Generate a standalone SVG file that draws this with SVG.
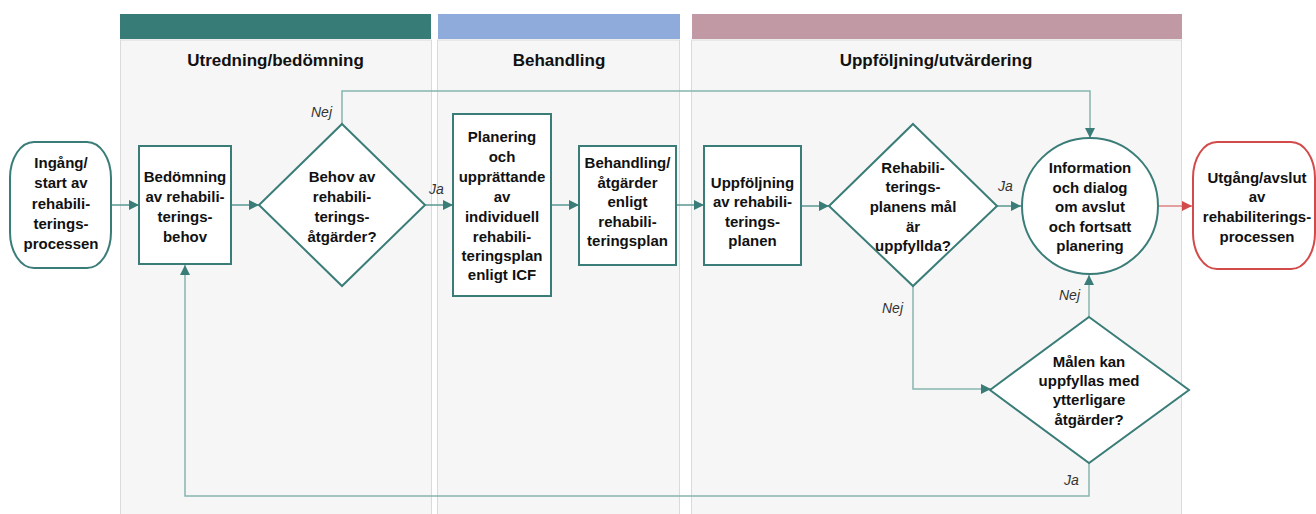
<svg xmlns="http://www.w3.org/2000/svg" width="1316" height="514" viewBox="0 0 1316 514">
<defs>
<marker id="arr" viewBox="0 0 10 10" refX="10" refY="5" markerWidth="10" markerHeight="10" markerUnits="userSpaceOnUse" orient="auto">
<path d="M0,0 L10,5 L0,10 Z" fill="#3a7d78"/>
</marker>
<marker id="arrR" viewBox="0 0 10 10" refX="10" refY="5" markerWidth="10" markerHeight="10" markerUnits="userSpaceOnUse" orient="auto">
<path d="M0,0 L10,5 L0,10 Z" fill="#d24a4a"/>
</marker>
<style>
.lane{fill:#f6f6f6;stroke:#dadada;stroke-width:1}
.title{font-family:"Liberation Sans",Arial,sans-serif;font-weight:bold;font-size:17px;fill:#111;text-anchor:middle}
.node{fill:#fff;stroke:#3a7d78;stroke-width:2}
.nodeR{fill:#fff;stroke:#d24a4a;stroke-width:2}
.t{font-family:"Liberation Sans",Arial,sans-serif;font-weight:bold;font-size:15px;fill:#111;text-anchor:middle}
.lbl{font-family:"Liberation Sans",Arial,sans-serif;font-style:italic;font-size:14px;fill:#333}
.c{fill:none;stroke:#5a9893;stroke-width:1.5}
.cl{fill:none;stroke:#86b5b0;stroke-width:1.5}
.cR{fill:none;stroke:#d24a4a;stroke-width:1.2}
</style>
</defs>
<g id="lanes">
<rect class="lane" x="120.5" y="40" width="311" height="480"/>
<rect x="120" y="14" width="311" height="25" fill="#387c77"/>
<text class="title" x="275.5" y="66">Utredning/bedömning</text>
<rect class="lane" x="437.5" y="40" width="242" height="480"/>
<rect x="438" y="14" width="242" height="25" fill="#8eabdb"/>
<text class="title" x="559" y="66">Behandling</text>
<rect class="lane" x="691.5" y="40" width="490" height="480"/>
<rect x="692" y="14" width="490" height="25" fill="#c099a5"/>
<text class="title" x="936" y="66">Uppföljning/utvärdering</text>
</g>
<g id="connectors">
<path class="c" d="M111,205 H139" marker-end="url(#arr)"/>
<path class="c" d="M231,205 H259" marker-end="url(#arr)"/>
<path class="cl" d="M342,124 V91 H1090 V138" marker-end="url(#arr)"/>
<path class="c" d="M425,205 H453" marker-end="url(#arr)"/>
<path class="c" d="M551,205 H579" marker-end="url(#arr)"/>
<path class="c" d="M676,205 H704" marker-end="url(#arr)"/>
<path class="c" d="M801,206 H829" marker-end="url(#arr)"/>
<path class="c" d="M997,206 H1021" marker-end="url(#arr)"/>
<path class="cR" d="M1159,206 H1192" marker-end="url(#arrR)"/>
<path class="cl" d="M913,285 V389 H991" marker-end="url(#arr)"/>
<path class="cl" d="M1089,317 V275" marker-end="url(#arr)"/>
<path class="cl" d="M1089,463 V496 H185 V265" marker-end="url(#arr)"/>
<text class="lbl" x="311" y="117">Nej</text>
<text class="lbl" x="429" y="194">Ja</text>
<text class="lbl" x="998" y="191">Ja</text>
<text class="lbl" x="882" y="313">Nej</text>
<text class="lbl" x="1059" y="300">Nej</text>
<text class="lbl" x="1064" y="485">Ja</text>
</g>
<g id="start">
<rect class="node" x="10" y="142" width="101" height="126" rx="24" ry="36"/>
<text class="t" x="61" y="168">Ingång/</text>
<text class="t" x="61" y="188">start av</text>
<text class="t" x="61" y="209">rehabili-</text>
<text class="t" x="61" y="229">terings-</text>
<text class="t" x="61" y="249">processen</text>
</g>
<g id="bedomning">
<rect class="node" x="139" y="146" width="92" height="118"/>
<text class="t" x="185" y="182">Bedömning</text>
<text class="t" x="185" y="202">av rehabili-</text>
<text class="t" x="185" y="222">terings-</text>
<text class="t" x="185" y="242">behov</text>
</g>
<g id="behov">
<polygon class="node" points="342,124 425,205 342,286 259,205"/>
<text class="t" x="342" y="182">Behov av</text>
<text class="t" x="342" y="202">rehabili-</text>
<text class="t" x="342" y="222">terings-</text>
<text class="t" x="342" y="242">åtgärder?</text>
</g>
<g id="planering">
<rect class="node" x="453" y="114" width="98" height="182"/>
<text class="t" x="502" y="142">Planering</text>
<text class="t" x="502" y="162">och</text>
<text class="t" x="502" y="182">upprättande</text>
<text class="t" x="502" y="202">av</text>
<text class="t" x="502" y="222">individuell</text>
<text class="t" x="502" y="242">rehabili-</text>
<text class="t" x="502" y="261">teringsplan</text>
<text class="t" x="502" y="280">enligt ICF</text>
</g>
<g id="behandling">
<rect class="node" x="579" y="146" width="97" height="119"/>
<text class="t" x="627.5" y="168">Behandling/</text>
<text class="t" x="627.5" y="188">åtgärder</text>
<text class="t" x="627.5" y="207">enligt</text>
<text class="t" x="627.5" y="227">rehabili-</text>
<text class="t" x="627.5" y="246">teringsplan</text>
</g>
<g id="uppfoljning">
<rect class="node" x="704" y="146" width="97" height="119"/>
<text class="t" x="752.5" y="188">Uppföljning</text>
<text class="t" x="752.5" y="207">av rehabili-</text>
<text class="t" x="752.5" y="227">terings-</text>
<text class="t" x="752.5" y="246">planen</text>
</g>
<g id="malen-uppfyllda">
<polygon class="node" points="913,124 997,206 913,286 829,206"/>
<text class="t" x="913" y="173">Rehabili-</text>
<text class="t" x="913" y="192">terings-</text>
<text class="t" x="913" y="212">planens mål</text>
<text class="t" x="913" y="232">är</text>
<text class="t" x="913" y="251">uppfyllda?</text>
</g>
<g id="information">
<circle class="node" cx="1090" cy="206" r="68"/>
<text class="t" x="1090" y="173">Information</text>
<text class="t" x="1090" y="193">och dialog</text>
<text class="t" x="1090" y="212">om avslut</text>
<text class="t" x="1090" y="232">och fortsatt</text>
<text class="t" x="1090" y="251">planering</text>
</g>
<g id="utgang">
<rect class="nodeR" x="1193" y="142" width="122" height="127" rx="24" ry="36"/>
<text class="t" x="1257" y="183">Utgång/avslut</text>
<text class="t" x="1257" y="202">av</text>
<text class="t" x="1257" y="222">rehabiliterings-</text>
<text class="t" x="1257" y="242">processen</text>
</g>
<g id="ytterligare">
<polygon class="node" points="1089,317 1189,390 1089,463 990,390"/>
<text class="t" x="1089" y="367">Målen kan</text>
<text class="t" x="1089" y="386">uppfyllas med</text>
<text class="t" x="1089" y="405">ytterligare</text>
<text class="t" x="1089" y="425">åtgärder?</text>
</g>
</svg>
